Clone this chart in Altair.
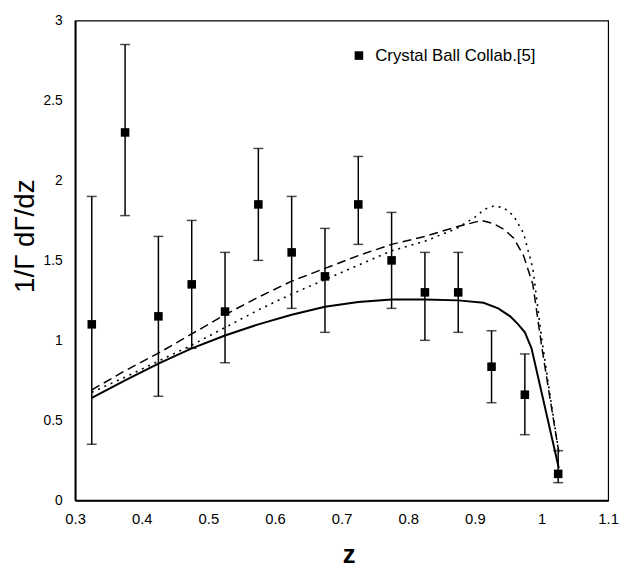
import altair as alt
import pandas as pd

# Data points (Crystal Ball)
z_pts = [0.325, 0.375, 0.425, 0.475, 0.525, 0.575, 0.625, 0.675, 0.725, 0.775, 0.825, 0.875, 0.925, 0.975, 1.025]
y_pts = [1.10, 2.30, 1.15, 1.35, 1.18, 1.85, 1.55, 1.40, 1.85, 1.50, 1.30, 1.30, 0.835, 0.66, 0.165]
y_lo = [0.35, 1.78, 0.65, 0.95, 0.86, 1.50, 1.20, 1.05, 1.60, 1.20, 1.00, 1.05, 0.61, 0.41, 0.11]
y_hi = [1.90, 2.85, 1.65, 1.75, 1.55, 2.20, 1.90, 1.70, 2.15, 1.80, 1.55, 1.55, 1.06, 0.915, 0.31]

# Solid curve
z_solid = [0.325, 0.375, 0.425, 0.475, 0.525, 0.575, 0.625, 0.675, 0.725, 0.775, 0.825, 0.875, 0.913, 0.935, 0.953, 0.965, 0.975, 0.985, 1.026]
y_solid = [0.64, 0.75, 0.855, 0.95, 1.03, 1.10, 1.16, 1.21, 1.24, 1.255, 1.255, 1.25, 1.235, 1.20, 1.15, 1.10, 1.05, 0.95, 0.20]

# Dashed curve
z_dash = [0.325, 0.375, 0.425, 0.475, 0.525, 0.575, 0.625, 0.675, 0.725, 0.775, 0.825, 0.873, 0.91, 0.928, 0.945, 0.958, 0.973, 0.987, 1.0, 1.013, 1.026]
y_dash = [0.69, 0.81, 0.92, 1.04, 1.16, 1.27, 1.37, 1.45, 1.53, 1.60, 1.65, 1.71, 1.75, 1.73, 1.69, 1.64, 1.53, 1.35, 0.97, 0.63, 0.30]

# Dotted curve
z_dot = [0.325, 0.375, 0.425, 0.475, 0.525, 0.575, 0.625, 0.675, 0.725, 0.775, 0.825, 0.873, 0.90, 0.915, 0.928, 0.943, 0.958, 0.973, 0.987, 1.0, 1.013, 1.026]
y_dot = [0.675, 0.77, 0.87, 0.97, 1.08, 1.19, 1.29, 1.38, 1.47, 1.56, 1.62, 1.70, 1.77, 1.82, 1.84, 1.83, 1.78, 1.67, 1.45, 1.02, 0.65, 0.30]

x_ticks = [0.3, 0.4, 0.5, 0.6, 0.7, 0.8, 0.9, 1.0, 1.1]
y_ticks = [0, 0.5, 1, 1.5, 2, 2.5, 3]
legend_label = "Crystal Ball Collab.[5]"

FONT = "Liberation Sans"

pts = pd.DataFrame({"z": z_pts, "y": y_pts, "lo": y_lo, "hi": y_hi, "series": legend_label})
solid = pd.DataFrame({"z": z_solid, "y": y_solid})
dash = pd.DataFrame({"z": z_dash, "y": y_dash})
dot = pd.DataFrame({"z": z_dot, "y": y_dot})

xs = alt.Scale(domain=[0.3, 1.1], nice=False, zero=False)
ys = alt.Scale(domain=[0, 3], nice=False, zero=False)

x_axis = alt.Axis(values=x_ticks, format="~g", grid=False, ticks=False, labelPadding=12,
                  labelFlush=False,
                  labelFontSize=15, labelFont=FONT, labelColor="black",
                  title="z", titleFontSize=26, titleFont=FONT, titleFontWeight="bold",
                  titleX=277, titleY=63, titleBaseline="alphabetic", titleColor="black",
                  domainColor="black", domainWidth=2)
y_axis = alt.Axis(values=y_ticks, format="~g", grid=False, ticks=False, labelPadding=13,
                  labelFontSize=14, labelFont=FONT, labelColor="black",
                  title="1/Γ dΓ/dz", titleFontSize=28, titleFont=FONT, titleFontWeight="normal",
                  titleX=-42, titleY=218, titleBaseline="alphabetic", titleColor="black",
                  domainColor="black", domainWidth=2)

base_x = alt.X("z:Q", scale=xs, axis=x_axis)
base_y = alt.Y("y:Q", scale=ys, axis=y_axis)

solid_line = alt.Chart(solid).mark_line(color="black", strokeWidth=2).encode(x=base_x, y=base_y)
dash_line = alt.Chart(dash).mark_line(color="black", strokeWidth=1.5, strokeDash=[9, 5]).encode(x=base_x, y=base_y)
dot_line = alt.Chart(dot).mark_line(color="black", strokeWidth=1.6, strokeDash=[2, 5]).encode(x=base_x, y=base_y)

err = alt.Chart(pts).mark_rule(color="black", strokeWidth=1.5).encode(
    x=alt.X("z:Q", scale=xs, axis=x_axis),
    y=alt.Y("lo:Q", scale=ys, axis=y_axis),
    y2="hi:Q",
)
cap_lo = alt.Chart(pts).mark_tick(color="black", orient="horizontal", size=10, thickness=1.5).encode(
    x=alt.X("z:Q", scale=xs, axis=x_axis), y=alt.Y("lo:Q", scale=ys, axis=y_axis))
cap_hi = alt.Chart(pts).mark_tick(color="black", orient="horizontal", size=10, thickness=1.5).encode(
    x=alt.X("z:Q", scale=xs, axis=x_axis), y=alt.Y("hi:Q", scale=ys, axis=y_axis))

points = alt.Chart(pts).mark_square(size=75, opacity=1, filled=True).encode(
    x=alt.X("z:Q", scale=xs, axis=x_axis),
    y=alt.Y("y:Q", scale=ys, axis=y_axis),
    color=alt.Color("series:N", scale=alt.Scale(range=["black"]),
                    legend=alt.Legend(title=None, orient="none", legendX=279, legendY=27,
                                      symbolType="square", symbolSize=75, labelFontSize=17,
                                      labelFont=FONT, labelColor="black", padding=0,
                                      labelLimit=0, symbolOffset=0, labelOffset=8)),
)

chart = alt.layer(err, cap_lo, cap_hi, solid_line, dash_line, dot_line, points).properties(
    width=540, height=486,
    autosize=alt.AutoSizeParams(type="none"),
    padding={"left": 68, "top": 9, "right": 11, "bottom": 69},
    background="white",
).configure_view(stroke="black", strokeWidth=1.2)

chart.save("out.html", embed_options={"renderer": "svg", "actions": False})
